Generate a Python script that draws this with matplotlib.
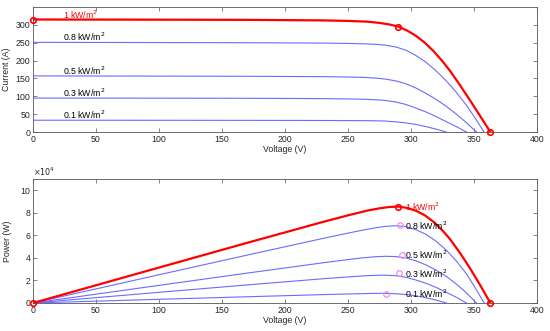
import matplotlib
matplotlib.use("Agg")
import matplotlib.pyplot as plt
import numpy as np

plt.rcParams['font.family'] = ['Liberation Sans', 'DejaVu Sans']

# ---- Data ----
irradiance_labels = ["1 kW/m$^2$", "0.8 kW/m$^2$", "0.5 kW/m$^2$", "0.3 kW/m$^2$", "0.1 kW/m$^2$"]

v_1 = [0, 100, 170, 230, 250, 265, 275, 283, 290, 297, 304, 311, 318, 325, 331, 339, 347, 355, 363]
i_1 = [315, 314.5, 314, 312.5, 311, 309, 305.5, 301, 295, 284, 269, 250, 226, 198, 171, 130.5, 88, 44, 0]

v_08 = [0, 100, 170, 230, 250, 262, 272, 280, 288, 296, 304, 312, 320, 328, 336, 344, 351, 358]
i_08 = [251, 250.5, 250, 249, 248, 247, 245.5, 243, 238, 229, 214, 195, 171, 143, 111, 75, 38.5, 0]

v_05 = [0, 100, 170, 230, 250, 262, 272, 280, 288, 296, 304, 312, 320, 328, 336, 344, 352]
i_05 = [157, 156.5, 156, 155, 154, 153, 151, 148, 143, 135, 123, 108, 91, 72, 50, 26, 0]

v_03 = [0, 100, 170, 230, 250, 265, 278, 288, 296, 304, 312, 320, 328, 336, 344]
i_03 = [95, 94.7, 94.4, 93.5, 92.5, 91.5, 89, 84, 77, 67, 56, 43, 29, 15, 0]

v_01 = [0, 100, 170, 230, 250, 265, 278, 288, 296, 304, 312, 320, 328]
i_01 = [33, 32.8, 32.6, 32.3, 32, 31.7, 31, 28.5, 25.5, 21, 15, 8, 0]

# Maximum power points (V, P)
mpp_v = [290, 291.3, 292.6, 290.7, 280]
mpp_p = [8.54e4, 6.88e4, 4.29e4, 2.62e4, 0.83e4]
mpp_i_top = 295  # 1 kW/m2 MPP current
isc_1 = 315
voc_1 = 363

x_ticks = [0, 50, 100, 150, 200, 250, 300, 350, 400]
y_ticks_top = [0, 50, 100, 150, 200, 250, 300]
y_ticks_bot = [0, 2, 4, 6, 8, 10]

curves = [(v_1, i_1), (v_08, i_08), (v_05, i_05), (v_03, i_03), (v_01, i_01)]

# ---- Styling ----
RED = '#ff0000'
BLUE = '#6b6bff'
PINK = '#f08cf0'
AXC = '#555555'
TXT = '#262626'
FS = 6.3

fig = plt.figure(figsize=(5.5, 3.31), dpi=100)
ax1 = fig.add_axes([33/550, 1-132/331, 504/550, 125/331])
ax2 = fig.add_axes([33/550, 1-303/331, 504/550, 124/331])

def style(ax):
    for s in ax.spines.values():
        s.set_color(AXC)
        s.set_linewidth(0.6)
    ax.tick_params(direction='in', length=3, width=0.5, colors=AXC,
                   labelcolor=TXT, labelsize=FS, top=True, right=True, pad=2)

# Top panel: I-V
for k in range(len(curves) - 1, 0, -1):
    v, i = curves[k]
    ax1.plot(v, i, color=BLUE, lw=0.8)
ax1.plot(v_1, i_1, color=RED, lw=1.6, zorder=5)
ax1.plot([0, mpp_v[0], voc_1], [isc_1, mpp_i_top, 0], 'o', ms=4, mfc='none',
         mec=RED, mew=1.2, zorder=6, clip_on=False)
for k, (v, i) in enumerate(curves):
    ax1.text(24, i[0] - 3, irradiance_labels[k], fontsize=FS, va='bottom', ha='left',
             color=RED if k == 0 else 'black')
ax1.set_xlim(0, 400)
ax1.set_ylim(0, 350)
ax1.set_xticks(x_ticks)
ax1.set_yticks(y_ticks_top)
ax1.set_xlabel('Voltage (V)', fontsize=FS, color=TXT, labelpad=1)
ax1.set_ylabel('Current (A)', fontsize=FS, color=TXT, labelpad=3)
style(ax1)

# Bottom panel: P-V
for k in range(len(curves) - 1, 0, -1):
    v, i = curves[k]
    p = np.array(v) * np.array(i) / 1e4
    ax2.plot(v, p, color=BLUE, lw=0.8)
p1 = np.array(v_1) * np.array(i_1) / 1e4
ax2.plot(v_1, p1, color=RED, lw=1.6, zorder=5)
ax2.plot(np.array(mpp_v[1:]), np.array(mpp_p[1:]) / 1e4, 'o', ms=4, mfc='none',
         mec=PINK, mew=0.9, zorder=6)
ax2.plot([0, mpp_v[0], voc_1], [0, mpp_p[0] / 1e4, 0], 'o', ms=4, mfc='none',
         mec=RED, mew=1.2, zorder=7, clip_on=False)
for k in range(len(curves)):
    ax2.text(295, mpp_p[k] / 1e4, irradiance_labels[k], fontsize=FS, va='center', ha='left',
             color=RED if k == 0 else 'black', zorder=8)
ax2.set_xlim(0, 400)
ax2.set_ylim(0, 11)
ax2.set_xticks(x_ticks)
ax2.set_yticks(y_ticks_bot)
ax2.set_xlabel('Voltage (V)', fontsize=FS, color=TXT, labelpad=1)
ax2.set_ylabel('Power (W)', fontsize=FS, color=TXT, labelpad=6)
ax2.text(0, 1.01, r'$\times10^{4}$', transform=ax2.transAxes, fontsize=FS - 0.5,
         color=TXT, ha='left', va='bottom')
style(ax2)

fig.savefig('out.png', dpi=100)
